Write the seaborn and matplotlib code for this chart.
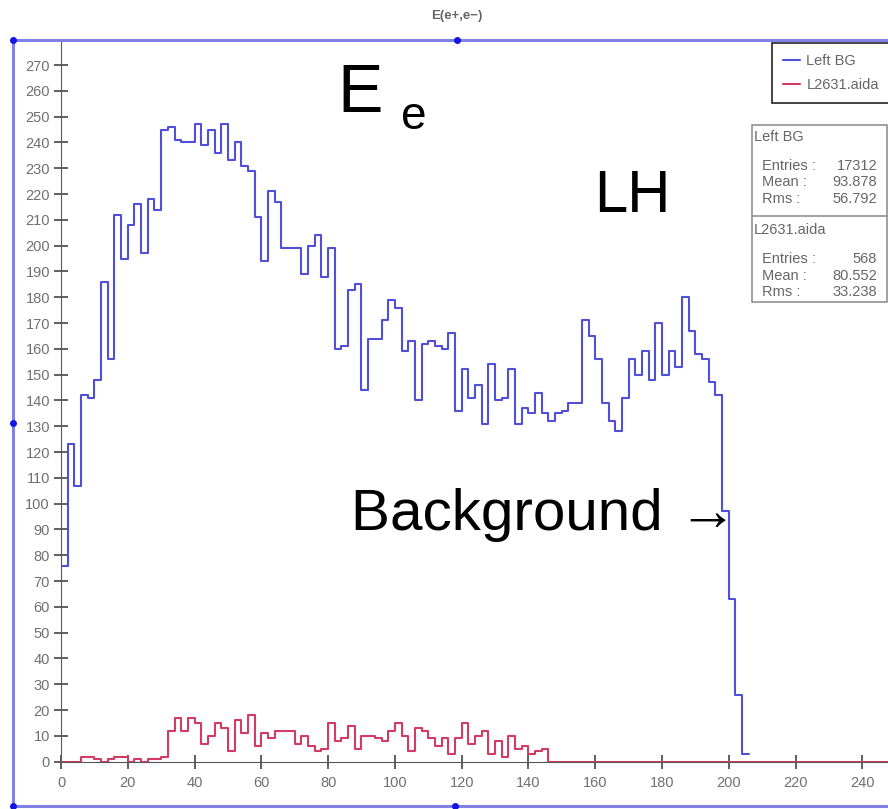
import numpy as np
import pandas as pd
import matplotlib.pyplot as plt
import seaborn as sns
from matplotlib.lines import Line2D
from matplotlib.patches import Rectangle

plt.switch_backend('Agg')
sns.set_style("ticks")
plt.rcParams['font.family'] = ['Liberation Sans', 'DejaVu Sans']

# bin width of both histograms (energy units)
BIN_WIDTH = 2

# "Left BG" counts per bin, 0..206
left_bg = [76, 123, 107, 142, 141, 148, 186, 156, 212, 195,
           208, 216, 197, 218, 214, 245, 246, 241, 240, 240,
           247, 239, 245, 236, 247, 233, 240, 231, 229, 211,
           194, 221, 217, 199, 199, 199, 189, 200, 204, 188,
           199, 160, 161, 183, 185, 144, 164, 164, 171, 179,
           176, 159, 163, 140, 162, 163, 161, 160, 166, 136,
           152, 141, 146, 131, 154, 140, 141, 152, 131, 137,
           135, 143, 135, 132, 135, 136, 139, 139, 171, 165,
           156, 139, 132, 128, 141, 156, 150, 159, 148, 170,
           150, 159, 153, 180, 167, 158, 156, 147, 142, 97,
           63, 26, 3]

# "L2631.aida" counts per bin, 0..248
l2631 = [0, 0, 0, 2, 2, 1, 0, 1, 2, 2,
         0, 1, 0, 1, 1, 2, 12, 17, 12, 17,
         15, 7, 10, 15, 13, 4, 16, 11, 18, 6,
         11, 9, 12, 12, 12, 7, 10, 6, 4, 5,
         15, 8, 9, 14, 5, 10, 10, 9, 8, 12,
         15, 10, 4, 13, 12, 9, 6, 9, 3, 9,
         15, 7, 10, 12, 3, 8, 2, 10, 5, 6,
         3, 4, 5, 0, 0, 0, 0, 0, 0, 0,
         0, 0, 0, 0, 0, 0, 0, 0, 0, 0,
         0, 0, 0, 0, 0, 0, 0, 0, 0, 0,
         0, 0, 0, 0, 0, 0, 0, 0, 0, 0,
         0, 0, 0, 0, 0, 0, 0, 0, 0, 0,
         0, 0, 0, 0]

series_names = ["Left BG", "L2631.aida"]
series_colors = ["#4f4fd8", "#d23c64"]
stats = {
    "Left BG": ("17312", "93.878", "56.792"),
    "L2631.aida": ("568", "80.552", "33.238"),
}
x_ticks = list(range(0, 241, 20))
y_ticks = list(range(0, 271, 10))

W, H = 888, 809


def fx(px):
    return px / W


def fy(py):
    return 1 - py / H


fig = plt.figure(figsize=(W / 100, H / 100), dpi=100)
ax = fig.add_axes([fx(61), fy(761.7), (W - 61) / W, (761.7 - 40) / H])

for name, counts, color in zip(series_names, [left_bg, l2631], series_colors):
    nbins = len(counts)
    centers = [BIN_WIDTH * (i + 0.5) for i in range(nbins)]
    df = pd.DataFrame({"E": centers, "n": counts})
    sns.histplot(data=df, x="E", weights="n", binwidth=BIN_WIDTH,
                 binrange=(0, nbins * BIN_WIDTH), element="step",
                 fill=False, color=color, linewidth=1.5, zorder=3, ax=ax)

ax.set_xlim(0, 247.7)
ax.set_ylim(0, 279.7)
ax.set_xticks(x_ticks)
ax.set_yticks(y_ticks)
ax.set_xlabel("")
ax.set_ylabel("")
for side in ("top", "right"):
    ax.spines[side].set_visible(False)
ax.spines["left"].set_color("#55557a")
ax.spines["bottom"].set_color("#555555")
ax.tick_params(axis="both", direction="inout", length=10, width=1.2,
               color="#444444", labelcolor="#707070", labelsize=10.5)
ax.tick_params(axis="y", pad=3)
ax.tick_params(axis="x", pad=5)

# title
fig.text(fx(457), fy(16), "E(e+,e−)", ha="center", va="center",
         fontsize=9.5, fontweight="bold", color="#666666")

# outer selection frame with handles
fig.add_artist(Rectangle((fx(13), fy(806)), fx(1000), fy(40) - fy(806),
                         transform=fig.transFigure, fill=False,
                         edgecolor="#8080e6", linewidth=2.2))
for hx, hy in [(13, 40), (457, 40), (13, 423), (13, 806), (455, 806)]:
    fig.add_artist(Line2D([fx(hx)], [fy(hy)], marker="o", markersize=4,
                          color="#1414e6", transform=fig.transFigure))

# legend
handles = [Line2D([], [], color=c, linewidth=1.5) for c in series_colors]
leg = ax.legend(handles, series_names, loc="upper left",
                bbox_to_anchor=(fx(772), fy(43)), bbox_transform=fig.transFigure,
                fontsize=10.5, handlelength=1.2, handletextpad=0.4,
                borderpad=0.75, labelspacing=0.7, fancybox=False,
                framealpha=1, edgecolor="#222222", borderaxespad=0)
for t in leg.get_texts():
    t.set_color("#666666")
leg.get_frame().set_linewidth(1.2)

# statistics box
fig.add_artist(Rectangle((fx(752), fy(302)), fx(135), fy(125) - fy(302),
                         transform=fig.transFigure, facecolor="white",
                         edgecolor="#888888", linewidth=1.1))
fig.add_artist(Line2D([fx(752), fx(887)], [fy(216), fy(216)],
                      color="#888888", linewidth=1.1, transform=fig.transFigure))
stat_font = dict(fontsize=10.5, color="#666666", va="center",
                 family=["Liberation Sans Narrow", "Liberation Sans", "DejaVu Sans"])
for top, name in [(137, "Left BG"), (230, "L2631.aida")]:
    fig.text(fx(754), fy(top), name, ha="left", **stat_font)
    for k, (lab, val) in enumerate(zip(["Entries :", "Mean :", "Rms :"], stats[name])):
        yy = top + 29 + 16.5 * k
        fig.text(fx(762), fy(yy), lab, ha="left", **stat_font)
        fig.text(fx(877), fy(yy), val, ha="right", **stat_font)

# annotations
fig.text(fx(337), fy(112), "E", fontsize=49, color="black", va="baseline")
fig.text(fx(401), fy(129), "e", fontsize=33, color="black", va="baseline")
fig.text(fx(594), fy(212), "LH", fontsize=43, color="black", va="baseline")
fig.text(fx(351), fy(530), "Background →", fontsize=42, color="black",
         va="baseline")

fig.savefig("out.png", dpi=100)
